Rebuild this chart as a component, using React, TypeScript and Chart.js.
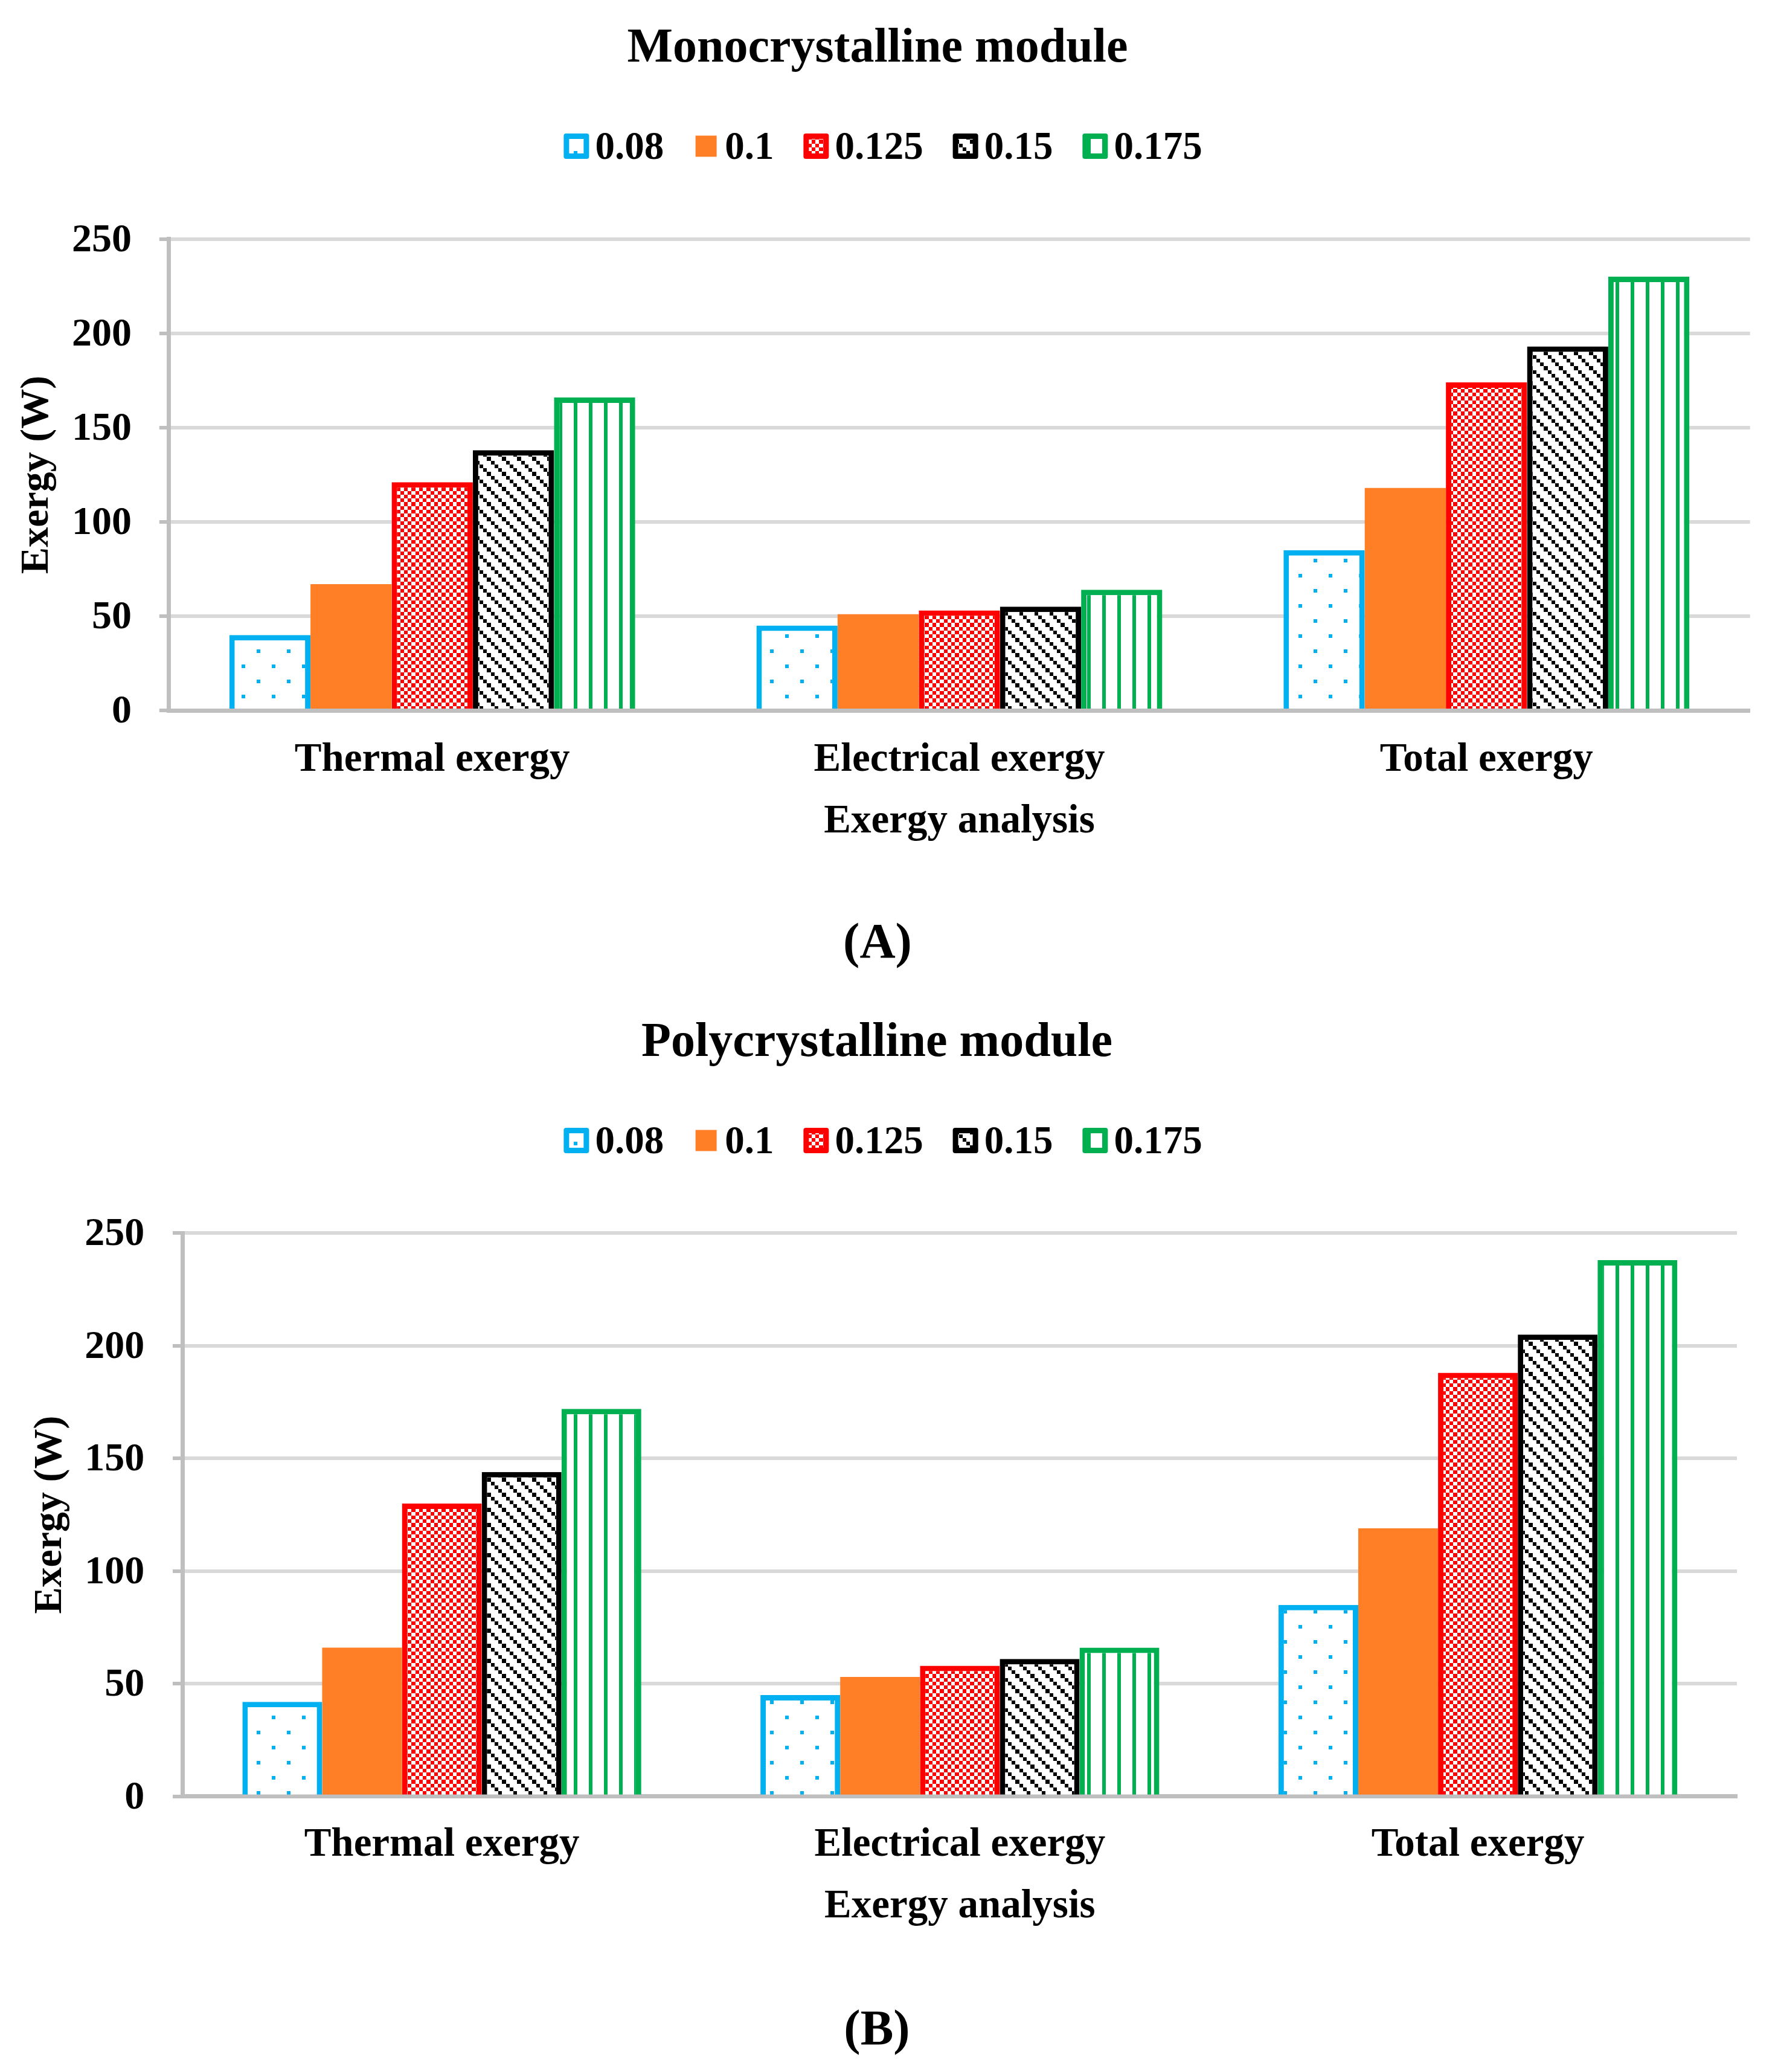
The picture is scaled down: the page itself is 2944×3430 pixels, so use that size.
import React, { useEffect, useRef } from 'react';
import { Chart, registerables } from 'chart.js';

Chart.register(...registerables);

// ---------------- data ----------------
const categories = ['Thermal exergy', 'Electrical exergy', 'Total exergy'];
const seriesLabels = ['0.08', '0.1', '0.125', '0.15', '0.175'];

const mono008 = [40, 45, 85];
const mono010 = [67, 51, 118];
const mono0125 = [121, 53, 174];
const mono015 = [138, 55, 193];
const mono0175 = [166, 64, 230];

const poly008 = [42, 45, 85];
const poly010 = [66, 53, 119];
const poly0125 = [130, 58, 188];
const poly015 = [144, 61, 205];
const poly0175 = [172, 66, 238];

const yTickValues = [0, 50, 100, 150, 200, 250];

// ---------------- styles ----------------
const FONT = '"Liberation Serif", "Times New Roman", Times, serif';
const BLUE = '#00B0F0';
const ORANGE = '#FF7F27';
const RED = '#FF0000';
const BLACK = '#000000';
const GREEN = '#00B050';
const seriesColors = [BLUE, ORANGE, RED, BLACK, GREEN];
const GRID = '#D9D9D9';
const AXIS = '#BFBFBF';
const CANVAS_W = 2944;

const CUTS = [0, 6, 13, 19, 25];

function tile(size: number, draw: (g: CanvasRenderingContext2D) => void) {
  const c = document.createElement('canvas');
  c.width = size;
  c.height = size;
  const g = c.getContext('2d') as CanvasRenderingContext2D;
  g.fillStyle = '#FFFFFF';
  g.fillRect(0, 0, size, size);
  draw(g);
  return c;
}

function makeFills(ctx: CanvasRenderingContext2D): any[] {
  const dots = tile(50, (g) => {
    g.fillStyle = BLUE;
    g.fillRect(0, 0, 6, 6);
    g.fillRect(25, 25, 6, 6);
  });
  const checks = tile(25, (g) => {
    g.fillStyle = RED;
    for (let i = 0; i < 4; i++) {
      for (let j = 0; j < 4; j++) {
        if ((i + j) % 2 === 0) {
          g.fillRect(CUTS[i], CUTS[j], CUTS[i + 1] - CUTS[i], CUTS[j + 1] - CUTS[j]);
        }
      }
    }
  });
  const diag = tile(25, (g) => {
    g.fillStyle = BLACK;
    for (let i = 0; i < 4; i++) {
      g.fillRect(CUTS[i], CUTS[i], CUTS[i + 1] - CUTS[i], CUTS[i + 1] - CUTS[i]);
    }
  });
  const vert = tile(25, (g) => {
    g.fillStyle = GREEN;
    g.fillRect(0, 0, 6, 25);
  });
  return [
    ctx.createPattern(dots, 'repeat'),
    ORANGE,
    ctx.createPattern(checks, 'repeat'),
    ctx.createPattern(diag, 'repeat'),
    ctx.createPattern(vert, 'repeat'),
  ];
}

// custom Excel-like legend drawn in the header space
const excelLegend = {
  id: 'excelLegend',
  afterDraw(chart: any, _args: any, opts: any) {
    const ctx: CanvasRenderingContext2D = chart.ctx;
    const items = chart.data.datasets;
    ctx.save();
    ctx.font = `bold ${opts.fontSize}px ${FONT}`;
    const slot = 42;
    const gap = 10;
    const itemGap = 49;
    const widths = items.map((d: any) => ctx.measureText(d.label).width);
    const total =
      widths.reduce((a: number, b: number) => a + b, 0) +
      items.length * (slot + gap) +
      (items.length - 1) * itemGap;
    let x = opts.centerX - total / 2;
    const cy = opts.centerY;
    items.forEach((d: any, i: number) => {
      if (d.borderWidth > 0) {
        ctx.fillStyle = d.borderColor;
        ctx.beginPath();
        (ctx as any).roundRect(x, cy - slot / 2, slot, slot, 4);
        ctx.fill();
        ctx.fillStyle = d.backgroundColor;
        ctx.fillRect(x + 9, cy - slot / 2 + 9, slot - 18, slot - 18);
      } else {
        ctx.fillStyle = d.backgroundColor;
        ctx.fillRect(x + 3.5, cy - 17.5, 35, 35);
      }
      ctx.fillStyle = '#000000';
      ctx.textAlign = 'left';
      ctx.textBaseline = 'alphabetic';
      ctx.fillText(d.label, x + slot + gap, opts.baseline);
      x += slot + gap + widths[i] + itemGap;
    });
    ctx.restore();
  },
};

type Spec = {
  height: number;
  title: string;
  sub: string;
  series: number[][];
  titlePad: { top: number; bottom: number };
  layoutPad: { left: number; right: number };
  yWidth: number;
  yTitlePadTop: number;
  yTickPad: number;
  yTickLen: number;
  xHeight: number;
  xTickPad: number;
  subPad: { top: number; bottom: number };
  legend: { centerX: number; centerY: number; baseline: number };
};

const monoSpec: Spec = {
  height: 1640,
  title: 'Monocrystalline module',
  sub: '(A)',
  series: [mono008, mono010, mono0125, mono015, mono0175],
  titlePad: { top: 33.5, bottom: 266.2 },
  layoutPad: { left: 8.3, right: 46.3 },
  yWidth: 271,
  yTitlePadTop: 14.1,
  yTickPad: 45.8,
  yTickLen: 15.5,
  xHeight: 224.9,
  xTickPad: 42.4,
  subPad: { top: 113.9, bottom: 26.8 },
  legend: { centerX: 1462, centerY: 242, baseline: 263.3 },
};

const polySpec: Spec = {
  height: 1790,
  title: 'Polycrystalline module',
  sub: '(B)',
  series: [poly008, poly010, poly0125, poly015, poly0175],
  titlePad: { top: 39.5, bottom: 265.8 },
  layoutPad: { left: 28, right: 68 },
  yWidth: 274.7,
  yTitlePadTop: 16.4,
  yTickPad: 46.7,
  yTickLen: 16.7,
  xHeight: 223.4,
  xTickPad: 41,
  subPad: { top: 116.3, bottom: 18.1 },
  legend: { centerX: 1462, centerY: 248, baseline: 269 },
};

function ExergyChart({ spec }: { spec: Spec }) {
  const ref = useRef<HTMLCanvasElement | null>(null);
  useEffect(() => {
    const canvas = ref.current as HTMLCanvasElement;
    const ctx = canvas.getContext('2d') as CanvasRenderingContext2D;
    const fills = makeFills(ctx);
    const datasets = seriesLabels.map((label, i) => ({
      label,
      data: spec.series[i],
      backgroundColor: fills[i],
      borderColor: seriesColors[i],
      borderWidth: i === 1 ? 0 : 9,
      barPercentage: 1,
      categoryPercentage: 0.77,
    }));
    const chart = new Chart(ctx, {
      type: 'bar',
      data: { labels: categories, datasets },
      plugins: [excelLegend],
      options: {
        responsive: false,
        animation: false,
        events: [],
        layout: { padding: { left: spec.layoutPad.left, right: spec.layoutPad.right, top: 0, bottom: 0 } },
        plugins: {
          legend: { display: false },
          tooltip: { enabled: false },
          title: {
            display: true,
            text: spec.title,
            color: '#000000',
            font: { family: FONT, size: 80, weight: 'bold' },
            padding: spec.titlePad,
          },
          subtitle: {
            display: true,
            text: spec.sub,
            position: 'bottom',
            color: '#000000',
            font: { family: FONT, size: 82, weight: 'bold' },
            padding: spec.subPad,
          },
          excelLegend: { ...spec.legend, fontSize: 65 },
        } as any,
        scales: {
          x: {
            type: 'category',
            z: 1,
            grid: { display: false, drawTicks: false },
            border: { display: true, color: AXIS, width: 7 },
            ticks: {
              color: '#000000',
              font: { family: FONT, size: 67, weight: 'bold' },
              padding: spec.xTickPad,
              maxRotation: 0,
              autoSkip: false,
            },
            title: {
              display: true,
              text: 'Exergy analysis',
              color: '#000000',
              font: { family: FONT, size: 67, weight: 'bold' },
              padding: { top: 0, bottom: 0 },
            },
            afterFit: (s: any) => {
              s.height = spec.xHeight;
            },
          },
          y: {
            min: yTickValues[0],
            max: yTickValues[yTickValues.length - 1],
            grid: {
              color: GRID,
              lineWidth: 6,
              tickColor: AXIS,
              tickLength: spec.yTickLen,
              drawTicks: true,
            },
            border: { display: true, color: AXIS, width: 7 },
            ticks: {
              stepSize: yTickValues[1] - yTickValues[0],
              color: '#000000',
              font: { family: FONT, size: 66, weight: 'bold' },
              padding: spec.yTickPad,
              labelOffset: 3,
            },
            title: {
              display: true,
              text: 'Exergy (W)',
              color: '#000000',
              font: { family: FONT, size: 66, weight: 'bold' },
              padding: { top: spec.yTitlePadTop, bottom: 0 },
            },
            afterFit: (s: any) => {
              s.width = spec.yWidth;
            },
          },
        },
      } as any,
    });
    return () => chart.destroy();
  }, [spec]);
  return (
    <canvas
      ref={ref}
      width={CANVAS_W}
      height={spec.height}
      style={{ display: 'block', width: CANVAS_W, height: spec.height }}
    />
  );
}

export default function App() {
  useEffect(() => {
    document.body.style.margin = '0';
    document.body.style.background = '#FFFFFF';
  }, []);
  return (
    <div style={{ width: CANVAS_W, background: '#FFFFFF' }}>
      <ExergyChart spec={monoSpec} />
      <ExergyChart spec={polySpec} />
    </div>
  );
}
